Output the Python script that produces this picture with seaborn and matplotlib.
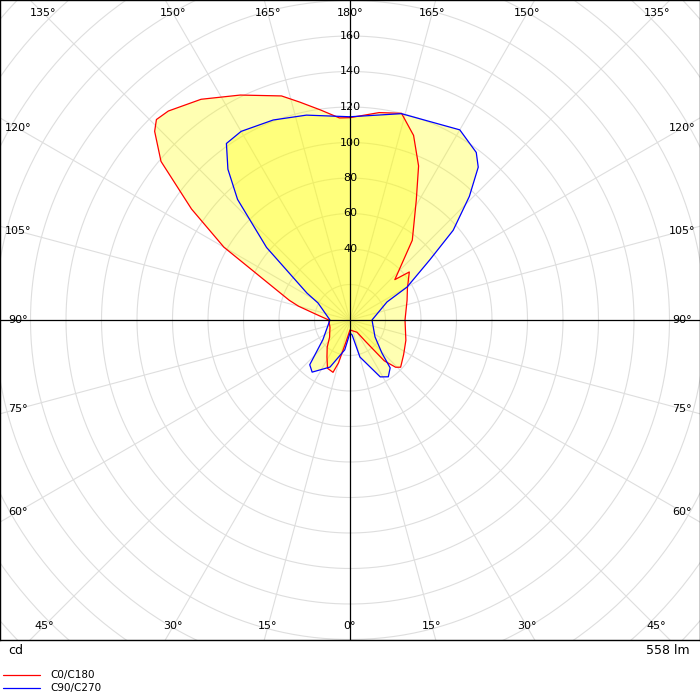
import numpy as np
import matplotlib
matplotlib.use("Agg")
import matplotlib.pyplot as plt
from matplotlib.lines import Line2D
import seaborn as sns

# luminous intensity (cd) vs gamma angle; negative angles = left half of the diagram
c0_angle = [-180, -177, -172, -167, -163, -154, -146, -139, -136, -134, -130, -125, -120, -108, -105, -100,
            -90, -70, -55, -50, -40, -32, -25, -18, -15, -10, 0,
            30, 36, 40, 44, 47, 57, 70, 90, 109, 119, 129, 132, 142, 151, 156, 161, 166, 172, 180]
c0_cd = [114, 114, 119.5, 126, 132, 141, 150, 156, 157, 153, 139, 109, 82, 36, 30, 20,
         12, 12, 14, 15, 20, 24.5, 30, 31, 25, 12, 5.6,
         8, 15, 30, 37, 39, 36, 33.5, 31, 34, 37, 43, 34, 57, 77, 95, 110, 120, 118, 114]

c90_angle = [-180, -168, -159, -150, -145, -141, -137, -131, -122, -118, -90, -54, -42, -36, -23, -10, 0,
             8, 15, 28, 34, 40, 44, 56, 90, 116, 120, 127, 131, 136, 140, 143, 150, 166, 180]
c90_cd = [114.5, 118, 120.7, 122.7, 121.4, 109.3, 92.9, 62.3, 28.6, 20.4, 11.3, 18.9, 33.9, 36.3, 28.8, 17.1, 7.3,
          8.5, 21.6, 36.3, 38.6, 35.2, 25.9, 17, 12.4, 23.2, 37.1, 56.3, 77, 96.8, 112.4, 118.2, 123.7, 119.8, 114.5]

ring_labels = [40, 60, 80, 100, 120, 140, 160]
flux_text = "558 lm"
series_names = ["C0/C180", "C90/C270"]

PX = 1.775  # pixels per cd
XR = 350 / PX
YR = 320 / PX


def to_xy(ang, cd):
    g = np.radians(np.asarray(ang, float))
    cd = np.asarray(cd, float)
    return cd * np.sin(g), -cd * np.cos(g)


sns.set_style("white")
plt.rcParams['font.family'] = ['DejaVu Sans']
plt.rcParams['text.color'] = 'black'
fig = plt.figure(figsize=(7, 7), dpi=100)
ax = fig.add_axes([0, 60 / 700, 1, 640 / 700])
ax.set_xlim(-XR, XR)
ax.set_ylim(-YR, YR)
ax.set_aspect('equal')
ax.set_xticks([])
ax.set_yticks([])
for s in ax.spines.values():
    s.set_color('black')
    s.set_linewidth(1)

# grid rings and spokes
t = np.linspace(0, 2 * np.pi, 400)
for r in range(20, 320, 20):
    ax.plot(r * np.cos(t), r * np.sin(t), color='#dedede', lw=0.8, zorder=1)
for a in range(0, 360, 15):
    if a % 90 == 0:
        continue
    g = np.radians(a)
    ax.plot([0, 400 * np.sin(g)], [0, -400 * np.cos(g)], color='#dedede', lw=0.8, zorder=1)
ax.axhline(0, color='black', lw=0.9, zorder=5)
ax.axvline(0, color='black', lw=0.9, zorder=5)

for ang, cd, col in [(c0_angle, c0_cd, 'red'), (c90_angle, c90_cd, 'blue')]:
    x, y = to_xy(ang, cd)
    ax.fill(x, y, color='#ffff00', alpha=0.3, lw=0, zorder=2)
    sns.lineplot(x=x, y=y, sort=False, estimator=None, color=col, lw=0.9, ax=ax, zorder=4)

for r in ring_labels:
    ax.text(0, r, str(r), ha='center', va='center', fontsize=8, color='black', zorder=6)

# angle labels at the frame
fs = 8
ytop = YR - 13 / PX
ybot = -YR + 14 / PX
xside = XR - 18 / PX
for a in [135, 150, 165, 180]:
    dx = ytop * np.tan(np.radians(180 - a))
    for sgn in ([1] if a == 180 else [-1, 1]):
        ax.text(sgn * dx, ytop, f"{a}°", ha='center', va='center', fontsize=fs, color='black')
for a in [0, 15, 30, 45]:
    dx = -ybot * np.tan(np.radians(a))
    for sgn in ([1] if a == 0 else [-1, 1]):
        ax.text(sgn * dx, ybot, f"{a}°", ha='center', va='center', fontsize=fs, color='black')
for a in [60, 75, 90, 105, 120]:
    y = -xside / np.tan(np.radians(a))
    for sgn in [-1, 1]:
        ax.text(sgn * xside, y, f"{a}°", ha='center', va='center', fontsize=fs, color='black')

fig.text(8 / 700, 1 - 650 / 700, "cd", ha='left', va='center', fontsize=9, color='black')
fig.text(690 / 700, 1 - 650 / 700, flux_text, ha='right', va='center', fontsize=9, color='black')
for i, (name, col) in enumerate(zip(series_names, ['red', 'blue'])):
    yy = 1 - (675 + 13 * i) / 700
    fig.add_artist(Line2D([3 / 700, 40 / 700], [yy, yy], color=col, lw=0.9))
    fig.text(50 / 700, yy, name, ha='left', va='center', fontsize=7.5, color='black')

fig.savefig("out.png", dpi=100)
